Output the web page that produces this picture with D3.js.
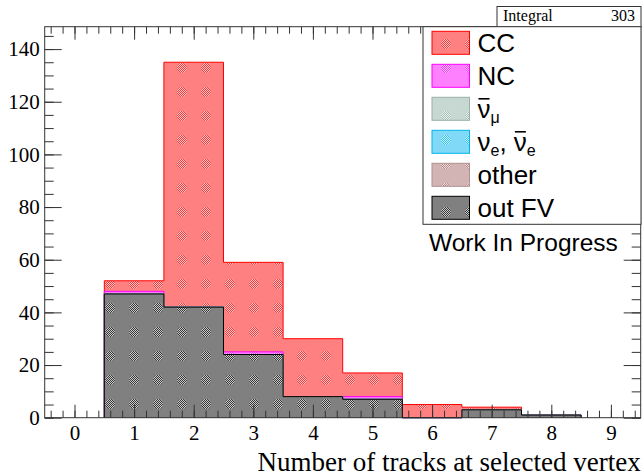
<!DOCTYPE html>
<html>
<head>
<meta charset="utf-8">
<script src="https://cdn.jsdelivr.net/npm/d3@7"></script>
<style>
  body { margin: 0; background: #fff; }
  svg { display: block; }
</style>
</head>
<body>
<div id="chart"></div>
<script>
// bin centres (number of tracks) and per-category counts, bottom of the stack first
const bins = [1, 2, 3, 4, 5, 6, 7, 8];
const outFV   = [47, 42, 24, 8, 7, 0, 3, 1];
const other   = [0, 0, 0, 0, 0, 0, 0, 0];
const nue     = [0, 0, 0, 0, 0, 0, 0, 0];
const numubar = [0, 0, 0, 0, 0, 0, 0, 0];
const nc      = [1, 0, 1, 0, 1, 0, 0, 0];
const cc      = [4, 93, 34, 22, 9, 5, 1, 0];

const xTicks = [0, 1, 2, 3, 4, 5, 6, 7, 8, 9];
const yTicks = [0, 20, 40, 60, 80, 100, 120, 140];
const integral = 303;

const colorpel = {
  cc: '#ff0000', nc: '#ff00ff', numubar: '#8fb0a4', nue: '#00b4ee',
  other: '#a56868', outfv: '#000000', frame: '#333'
};

// layers bottom -> top
const layers = [
  {key: 'outfv', vals: outFV, line: '#000'},
  {key: 'other', vals: other, line: '#b09090'},
  {key: 'nue', vals: nue, line: '#00b4ee'},
  {key: 'numubar', vals: numubar, line: '#99b0a8'},
  {key: 'nc', vals: nc, line: '#ff00ff'},
  {key: 'cc', vals: cc, line: '#ff0000'}
];

let width = 643, height = 475;
const m = {l: 44.7, t: 26.7, r: 640.7, b: 417.7};

const x = d3.scaleLinear().domain([-0.5, 9.5]).range([m.l, m.r]);
const y = d3.scaleLinear().domain([0, 148.5]).range([m.b, m.t]);

let svg = d3.select('#chart').append('svg')
  .attr('width', width).attr('height', height);

// ROOT-like pattern fills: flat blend + checkered blobs
const defs = svg.append('defs');
const mix = c => { let q = d3.rgb(c); return d3.rgb((q.r + 255) / 2, (q.g + 255) / 2, (q.b + 255) / 2).formatHex(); };
layers.forEach(l => {
  const c = colorpel[l.key];
  let ck = defs.append('pattern').attr('id', 'ck-' + l.key)
    .attr('patternUnits', 'userSpaceOnUse').attr('width', 2).attr('height', 2);
  ck.append('rect').attr('width', 2).attr('height', 2).attr('fill', '#fff');
  ck.append('rect').attr('width', 1).attr('height', 1).attr('fill', c);
  ck.append('rect').attr('x', 1).attr('y', 1).attr('width', 1).attr('height', 1).attr('fill', c);
  let p = defs.append('pattern').attr('id', 'pf-' + l.key)
    .attr('patternUnits', 'userSpaceOnUse').attr('width', 24).attr('height', 24)
    .attr('x', 2).attr('y', 8);
  p.append('rect').attr('width', 24).attr('height', 24).attr('fill', mix(c));
  p.append('circle').attr('cx', 12).attr('cy', 12).attr('r', 5).attr('fill', `url(#ck-${l.key})`)
    .attr('opacity', 0.6);
});

// cumulative histograms, drawn top layer first like THStack
const cum = layers.map((l, i) => bins.map((b, j) => d3.sum(layers.slice(0, i + 1), q => q.vals[j])));
const stepPath = vals => {
  let p = `M${x(bins[0] - 0.5)},${y(0)}`;
  bins.forEach((b, j) => {
    p += `L${x(b - 0.5)},${y(vals[j])}L${x(b + 0.5)},${y(vals[j])}`;
  });
  p += `L${x(bins[bins.length - 1] + 0.5)},${y(0)}`;
  return p;
};

let g_hist = svg.append('g').attr('class', 'hists');
for (let i = layers.length - 1; i >= 0; i--) {
  if (d3.max(cum[i]) === 0) continue;
  g_hist.append('path')
    .attr('d', stepPath(cum[i]))
    .attr('fill', `url(#pf-${layers[i].key})`)
    .attr('stroke', layers[i].line)
    .attr('stroke-width', 1);
}

// axes with inward ticks
const minorX = d3.range(-2, 48).map(i => +(i * 0.2).toFixed(1)).filter(v => v > -0.5 && v < 9.5);
const minorY = d3.range(0, 30).map(i => i * 5).filter(v => v <= 148.5);

const axStyle = g => {
  g.select('.domain').remove();
  g.selectAll('line').attr('stroke', colorpel.frame);
  g.selectAll('text').attr('fill', '#000')
    .style('font-family', '"Liberation Serif", "Times New Roman", serif')
    .style('font-size', '21px');
};

svg.append('g').attr('transform', `translate(0,${m.b})`)
  .call(d3.axisBottom(x).tickValues(minorX).tickSize(-7).tickFormat('')).call(axStyle);
svg.append('g').attr('transform', `translate(0,${m.b})`)
  .call(d3.axisBottom(x).tickValues(xTicks).tickSize(-13).tickPadding(7).tickFormat(d3.format('d'))).call(axStyle);
svg.append('g').attr('transform', `translate(0,${m.t})`)
  .call(d3.axisTop(x).tickValues(minorX).tickSize(-7).tickFormat('')).call(axStyle);
svg.append('g').attr('transform', `translate(0,${m.t})`)
  .call(d3.axisTop(x).tickValues(xTicks).tickSize(-13).tickFormat('')).call(axStyle);

svg.append('g').attr('transform', `translate(${m.l},0)`)
  .call(d3.axisLeft(y).tickValues(minorY).tickSize(-9).tickFormat('')).call(axStyle);
svg.append('g').attr('transform', `translate(${m.l},0)`)
  .call(d3.axisLeft(y).tickValues(yTicks).tickSize(-17).tickPadding(5).tickFormat(d3.format('d'))).call(axStyle);
svg.append('g').attr('transform', `translate(${m.r},0)`)
  .call(d3.axisRight(y).tickValues(minorY).tickSize(-9).tickFormat('')).call(axStyle);
svg.append('g').attr('transform', `translate(${m.r},0)`)
  .call(d3.axisRight(y).tickValues(yTicks).tickSize(-17).tickFormat('')).call(axStyle);

// frame
svg.append('rect')
  .attr('x', m.l).attr('y', m.t).attr('width', m.r - m.l).attr('height', m.b - m.t)
  .attr('fill', 'none').attr('stroke', colorpel.frame).attr('stroke-width', 1);

// x title
svg.append('text')
  .attr('x', m.r).attr('y', 470.5).attr('text-anchor', 'end')
  .style('font-family', '"Liberation Serif", "Times New Roman", serif')
  .style('font-size', '27px')
  .text('Number of tracks at selected vertex');

// stats box
let stat = svg.append('g');
stat.append('rect').attr('x', 497).attr('y', 6.5).attr('width', 144).attr('height', 20.5)
  .attr('fill', '#fff').attr('stroke', colorpel.frame);
stat.append('text').attr('x', 503).attr('y', 21)
  .style('font-family', '"Liberation Serif", serif').style('font-size', '16px').text('Integral');
stat.append('text').attr('x', 635).attr('y', 21).attr('text-anchor', 'end')
  .style('font-family', '"Liberation Serif", serif').style('font-size', '16px').text(integral);

// legend
const legendItems = [
  {key: 'cc', parts: [{t: 'CC'}]},
  {key: 'nc', parts: [{t: 'NC'}]},
  {key: 'numubar', parts: [{t: 'ν', bar: true}, {t: 'μ', sub: true}]},
  {key: 'nue', parts: [{t: 'ν'}, {t: 'e', sub: true}, {t: ',\u00a0'}, {t: 'ν', bar: true}, {t: 'e', sub: true}]},
  {key: 'other', parts: [{t: 'other'}]},
  {key: 'outfv', parts: [{t: 'out FV'}]}
];
let leg = svg.append('g');
leg.append('rect').attr('x', 423).attr('y', 26.7).attr('width', 218).attr('height', 197.6)
  .attr('fill', '#fff').attr('stroke', colorpel.frame);

const sans = '"Liberation Sans", Arial, sans-serif';
legendItems.forEach((it, i) => {
  const cy = 42.8 + i * 33;
  const lay = layers.find(l => l.key === it.key);
  leg.append('rect').attr('x', 432).attr('y', cy - 11.5).attr('width', 37.5).attr('height', 23)
    .attr('fill', `url(#pf-${it.key})`).attr('stroke', lay.line);
  let cx = 477.5;
  it.parts.forEach(p => {
    const fs = p.sub ? 16 : 26;
    const t = leg.append('text').attr('x', cx).attr('y', cy + (p.sub ? 14 : 9))
      .style('font-family', sans).style('font-size', fs + 'px').attr('fill', '#000')
      .style('white-space', 'pre')
      .text(p.t);
    const w = t.node().getComputedTextLength();
    if (p.bar) {
      leg.append('line').attr('x1', cx + 1).attr('x2', cx + w - 1)
        .attr('y1', cy - 10).attr('y2', cy - 10)
        .attr('stroke', '#000').attr('stroke-width', 1.6);
    }
    cx += w;
  });
});

svg.append('text').attr('x', 429).attr('y', 250.5)
  .style('font-family', sans).style('font-size', '24.5px').text('Work In Progress');
</script>
</body>
</html>
